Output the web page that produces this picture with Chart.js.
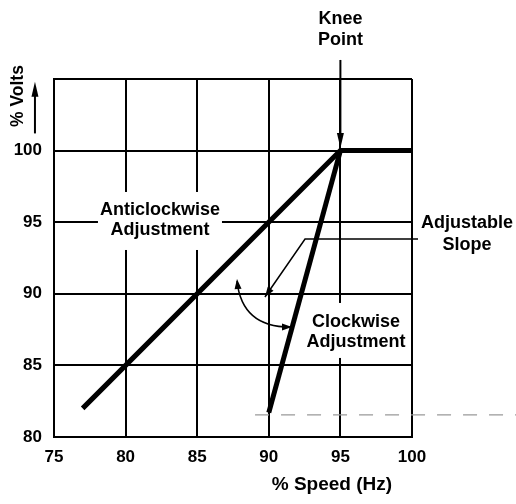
<!DOCTYPE html>
<html>
<head>
<meta charset="utf-8">
<script src="https://cdn.jsdelivr.net/npm/chart.js@4.4.1/dist/chart.umd.min.js"></script>
<style>
  html, body { margin: 0; padding: 0; background: #fff; }
  #wrap { width: 516px; height: 504px; }
</style>
</head>
<body>
<div id="wrap"><canvas id="kneeChart" width="516" height="504"></canvas></div>
<script>
// axis ticks
const speedTicks = [75, 80, 85, 90, 95, 100];
const voltTicks = [80, 85, 90, 95, 100, 105];
const voltLabels = ['80', '85', '90', '95', '100', ''];

// V/Hz characteristic
const anticlockSpeed = [77, 95, 100];
const anticlockVolts = [82, 100, 100];
const clockSpeed = [90, 95];
const clockVolts = [81.7, 100];

const FONT = '"Liberation Sans", Arial, sans-serif';

function pts(xs, ys) { return xs.map((x, i) => ({ x: x, y: ys[i] })); }

function arrowHead(ctx, tx, ty, fx, fy, len, half) {
    const a = Math.atan2(ty - fy, tx - fx);
    ctx.beginPath();
    ctx.moveTo(tx, ty);
    ctx.lineTo(tx - len * Math.cos(a) + half * Math.sin(a), ty - len * Math.sin(a) - half * Math.cos(a));
    ctx.lineTo(tx - len * Math.cos(a) - half * Math.sin(a), ty - len * Math.sin(a) + half * Math.cos(a));
    ctx.closePath();
    ctx.fill();
}

const whiteBg = {
    id: 'whiteBg',
    beforeDraw(chart) {
        const ctx = chart.ctx;
        ctx.save();
        ctx.fillStyle = '#fff';
        ctx.fillRect(0, 0, chart.width, chart.height);
        ctx.restore();
    }
};

// label boxes knock the grid out behind the text
const labelBoxes = [
    [78.07, 97.11, 86.73, 93.06],
    [92.32, 89.36, 99.79, 85.52]
];

const notes = [
    { lines: ['Knee', 'Point'], x: 95, y: [108.84, 107.37] },
    { lines: ['Anticlockwise', 'Adjustment'], x: 82.4, y: [95.5, 94.11] },
    { lines: ['Clockwise', 'Adjustment'], x: 96.09, y: [87.68, 86.28] },
    { lines: ['Adjustable', 'Slope'], x: 103.84, y: [94.6, 93.06] }
];

const annotations = {
    id: 'annotations',
    beforeDatasetsDraw(chart) {
        const ctx = chart.ctx, X = chart.scales.x, Y = chart.scales.y;
        ctx.save();
        ctx.fillStyle = '#fff';
        labelBoxes.forEach(b => {
            const x0 = X.getPixelForValue(b[0]), y0 = Y.getPixelForValue(b[1]);
            ctx.fillRect(x0, y0, X.getPixelForValue(b[2]) - x0, Y.getPixelForValue(b[3]) - y0);
        });
        ctx.restore();
    },
    afterDatasetsDraw(chart) {
        const ctx = chart.ctx, X = chart.scales.x, Y = chart.scales.y;
        const px = v => X.getPixelForValue(v), py = v => Y.getPixelForValue(v);
        ctx.save();
        ctx.fillStyle = '#000';
        ctx.strokeStyle = '#000';
        ctx.font = 'bold 18px ' + FONT;
        ctx.textAlign = 'center';
        ctx.textBaseline = 'alphabetic';
        notes.forEach(n => n.lines.forEach((t, i) => ctx.fillText(t, px(n.x), py(n.y[i]))));

        ctx.font = 'bold 19px ' + FONT;
        ctx.fillText('% Speed (Hz)', px(94.41), py(76.3));

        // y axis title with up arrow
        ctx.font = 'bold 17.5px ' + FONT;
        ctx.save();
        ctx.translate(px(72.84), py(103.81));
        ctx.rotate(-Math.PI / 2);
        ctx.fillText('% Volts', 0, 0);
        ctx.restore();
        ctx.lineWidth = 2;
        ctx.beginPath();
        ctx.moveTo(px(73.67), py(101.2));
        ctx.lineTo(px(73.67), py(104.3));
        ctx.stroke();
        arrowHead(ctx, px(73.67), py(104.8), px(73.67), py(101.2), 15, 3.5);

        // knee point arrow
        ctx.beginPath();
        ctx.moveTo(px(95), py(106.33));
        ctx.lineTo(px(95), py(101));
        ctx.stroke();
        arrowHead(ctx, px(95), py(100.18), px(95), py(106.33), 15, 3.5);

        // adjustable slope pointer
        ctx.lineWidth = 1.5;
        ctx.beginPath();
        ctx.moveTo(px(100.42), py(93.83));
        ctx.lineTo(px(92.53), py(93.83));
        ctx.lineTo(px(89.73), py(89.78));
        ctx.stroke();
        arrowHead(ctx, px(89.73), py(89.78), px(92.53), py(93.83), 10, 3.5);

        // curved double arrow between the two adjustments
        const p0 = [px(87.78), py(90.89)], c = [px(88.13), py(87.68)], p2 = [px(91.48), py(87.68)];
        ctx.beginPath();
        ctx.moveTo(p0[0], p0[1]);
        ctx.quadraticCurveTo(c[0], c[1], p2[0], p2[1]);
        ctx.stroke();
        arrowHead(ctx, p0[0], p0[1] - 2, c[0], c[1], 10, 3.5);
        arrowHead(ctx, p2[0] + 2, p2[1], c[0], c[1], 10, 3.5);

        // faint scan rule across the bottom
        ctx.strokeStyle = '#999';
        ctx.lineWidth = 1.2;
        ctx.setLineDash([14, 12]);
        ctx.beginPath();
        ctx.moveTo(px(89.04), py(81.54));
        ctx.lineTo(px(107.3), py(81.54));
        ctx.stroke();
        ctx.restore();
    }
};

new Chart(document.getElementById('kneeChart'), {
    type: 'scatter',
    data: {
        datasets: [
            { data: pts(anticlockSpeed, anticlockVolts), showLine: true, borderColor: '#000', borderWidth: 5, pointRadius: 0, borderJoinStyle: 'miter' },
            { data: pts(clockSpeed, clockVolts), showLine: true, borderColor: '#000', borderWidth: 5, pointRadius: 0 }
        ]
    },
    options: {
        responsive: false,
        animation: false,
        events: [],
        layout: { padding: { left: 0, right: 104, top: 79, bottom: 0 } },
        plugins: { legend: { display: false }, tooltip: { enabled: false } },
        scales: {
            x: {
                type: 'linear', min: 75, max: 100,
                afterBuildTicks: s => { s.ticks = speedTicks.map(v => ({ value: v })); },
                afterFit: s => { s.height = 67; },
                grid: { color: '#000', lineWidth: 2, drawTicks: false },
                border: { color: '#000', width: 2 },
                ticks: { color: '#000', padding: 10, maxRotation: 0, font: { family: FONT, size: 17, weight: 'bold' } }
            },
            y: {
                type: 'linear', min: 80, max: 105,
                afterBuildTicks: s => { s.ticks = voltTicks.map(v => ({ value: v })); },
                afterFit: s => { s.width = 54; },
                grid: { color: '#000', lineWidth: 2, drawTicks: false },
                border: { color: '#000', width: 2 },
                ticks: {
                    color: '#000', padding: 12, font: { family: FONT, size: 17, weight: 'bold' },
                    callback: v => voltLabels[voltTicks.indexOf(v)]
                }
            }
        }
    },
    plugins: [whiteBg, annotations]
});
</script>
</body>
</html>
